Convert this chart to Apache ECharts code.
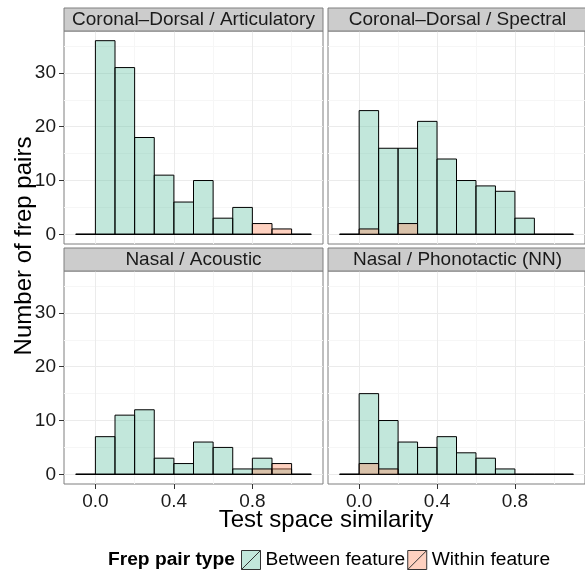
<!DOCTYPE html>
<html>
<head>
<meta charset="utf-8">
<title>Test space similarity</title>
<script src="https://cdn.jsdelivr.net/npm/echarts@6.0.0/dist/echarts.min.js"></script>
<style>
html,body{margin:0;padding:0;background:#fff;}
#chart{width:585px;height:570px;}
</style>
</head>
<body>
<div id="chart"></div>
<script>
// histogram bins (left edge of each 0.1 wide bin)
var binStarts = [-0.1, 0.0, 0.1, 0.2, 0.3, 0.4, 0.5, 0.6, 0.7, 0.8, 0.9, 1.0];
var binWidth = 0.1;

var panelTitles = ['Coronal\u2013Dorsal / Articulatory', 'Coronal\u2013Dorsal / Spectral',
                   'Nasal / Acoustic', 'Nasal / Phonotactic (NN)'];

// counts per bin, one pair of arrays per panel
var artBetween  = [0, 36, 31, 18, 11, 6, 10, 3, 5, 0, 0, 0];
var artWithin   = [0, 0, 0, 0, 0, 0, 0, 0, 0, 2, 1, 0];
var specBetween = [0, 23, 16, 16, 21, 14, 10, 9, 8, 3, 0, 0];
var specWithin  = [0, 1, 0, 2, 0, 0, 0, 0, 0, 0, 0, 0];
var acouBetween = [0, 7, 11, 12, 3, 2, 6, 5, 1, 3, 1, 0];
var acouWithin  = [0, 0, 0, 0, 0, 0, 0, 0, 0, 1, 2, 0];
var phonBetween = [0, 15, 10, 6, 5, 7, 4, 3, 1, 0, 0, 0];
var phonWithin  = [0, 2, 1, 0, 0, 0, 0, 0, 0, 0, 0, 0];

var yTicks = [0, 10, 20, 30];
var yMinor = [5, 15, 25, 35];
var xTicks = [0, 0.4, 0.8];
var xMinor = [0.2, 0.6, 1.0];

var groupNames = ['Between feature', 'Within feature'];

var FONT = 'Liberation Sans, Arial, Helvetica, sans-serif';
var greenFill = 'rgba(102,194,165,0.4)';
var pinkFill = 'rgba(252,141,98,0.4)';

var panelData = [
  [artBetween, artWithin],
  [specBetween, specWithin],
  [acouBetween, acouWithin],
  [phonBetween, phonWithin]
];

var grids = [
  {left: 64, top: 31, width: 259, height: 213},
  {left: 328, top: 31, width: 259, height: 213},
  {left: 64, top: 271, width: 259, height: 213},
  {left: 328, top: 271, width: 259, height: 213}
];

var chart = echarts.init(document.getElementById('chart'), null, {renderer: 'canvas'});

function binPairs(counts){
  var out = [];
  for (var i = 0; i < binStarts.length; i++) {
    out.push([binStarts[i], counts[i]]);
  }
  return out;
}

function renderBin(fill){
  return function(params, api){
    var x0 = api.value(0);
    var n = api.value(1);
    var tl = api.coord([x0, n]);
    var br = api.coord([x0 + binWidth, 0]);
    return {
      type: 'polygon',
      shape: {points: [[tl[0], br[1]], [tl[0], tl[1]], [br[0], tl[1]], [br[0], br[1]]]},
      style: {fill: fill, stroke: '#000', lineWidth: 1}
    };
  };
}

var xAxes = [], yAxes = [], series = [], graphics = [];

for (var g = 0; g < 4; g++) {
  var bottomRow = g >= 2;
  var leftCol = g % 2 === 0;
  grids[g].show = true;
  grids[g].borderColor = '#7f7f7f';
  grids[g].borderWidth = 1;
  grids[g].containLabel = false;

  // major axis
  xAxes.push({
    type: 'value', gridIndex: g, min: -0.16, max: 1.16, position: 'bottom',
    axisLine: {show: false, onZero: false},
    axisTick: {show: bottomRow, length: 5, customValues: xTicks, lineStyle: {color: '#333'}},
    axisLabel: {show: bottomRow, customValues: xTicks, margin: 8, fontSize: 19, color: '#1a1a1a', fontFamily: FONT,
      formatter: function(v){ return v.toFixed(1); }},
    splitLine: {show: true, lineStyle: {color: '#ebebeb', width: 1}}
  });
  // minor grid lines
  xAxes.push({
    type: 'value', gridIndex: g, min: -0.16, max: 1.16, position: 'top',
    axisLine: {show: false, onZero: false}, axisLabel: {show: false},
    axisTick: {show: false, customValues: xMinor},
    splitLine: {show: true, lineStyle: {color: '#f6f6f6', width: 1}}
  });
  yAxes.push({
    type: 'value', gridIndex: g, min: -1.8, max: 37.8, position: 'left',
    axisLine: {show: false, onZero: false},
    axisTick: {show: leftCol, length: 5, customValues: yTicks, lineStyle: {color: '#333'}},
    axisLabel: {show: leftCol, customValues: yTicks, margin: 8, fontSize: 19, color: '#1a1a1a', fontFamily: FONT},
    splitLine: {show: true, lineStyle: {color: '#ebebeb', width: 1}}
  });
  yAxes.push({
    type: 'value', gridIndex: g, min: -1.8, max: 37.8, position: 'right',
    axisLine: {show: false, onZero: false}, axisLabel: {show: false},
    axisTick: {show: false, customValues: yMinor},
    splitLine: {show: true, lineStyle: {color: '#f6f6f6', width: 1}}
  });

  var fills = [greenFill, pinkFill];
  for (var k = 0; k < 2; k++) {
    series.push({
      name: groupNames[k],
      type: 'custom',
      xAxisIndex: g * 2,
      yAxisIndex: g * 2,
      clip: false,
      itemStyle: {color: fills[k], borderColor: '#000'},
      renderItem: renderBin(fills[k]),
      encode: {x: 0, y: 1},
      data: binPairs(panelData[g][k]),
      z: 2 + k
    });
  }

  // facet strip
  var sx = grids[g].left, sy = bottomRow ? 248 : 8;
  graphics.push({
    type: 'rect', silent: true, z: 10,
    shape: {x: sx, y: sy, width: grids[g].width, height: 23},
    style: {fill: '#cccccc', stroke: '#7f7f7f', lineWidth: 1}
  });
  graphics.push({
    type: 'text', silent: true, z: 11,
    x: sx + grids[g].width / 2, y: sy + 11.5,
    style: {text: panelTitles[g], font: '19px ' + FONT, fill: '#1a1a1a', align: 'center', verticalAlign: 'middle'}
  });
}

graphics.push({
  type: 'text', silent: true, x: 24, y: 246, rotation: Math.PI / 2,
  style: {text: 'Number of frep pairs', font: '24px ' + FONT, fill: '#000', align: 'center', verticalAlign: 'middle'}
});
graphics.push({
  type: 'text', silent: true, x: 326, y: 520,
  style: {text: 'Test space similarity', font: '24px ' + FONT, fill: '#000', align: 'center', verticalAlign: 'middle'}
});
graphics.push({
  type: 'text', silent: true, x: 108, y: 560,
  style: {text: 'Frep pair type', font: 'bold 19.2px ' + FONT, fill: '#000', align: 'left', verticalAlign: 'middle'}
});

var keyIcon = 'path://M0,0H20V20H0Z M0,20L20,0';

chart.setOption({
  animation: false,
  backgroundColor: '#fff',
  grid: grids,
  xAxis: xAxes,
  yAxis: yAxes,
  legend: {
    left: 241, top: 550, padding: 0, itemWidth: 19, itemHeight: 19, itemGap: 2,
    selectedMode: false,
    textStyle: {fontSize: 19.2, color: '#000', fontFamily: FONT},
    data: [
      {name: groupNames[0], icon: keyIcon, itemStyle: {color: greenFill, borderColor: '#333', borderWidth: 1}},
      {name: groupNames[1], icon: keyIcon, itemStyle: {color: pinkFill, borderColor: '#333', borderWidth: 1}}
    ]
  },
  graphic: graphics,
  series: series
});
</script>
</body>
</html>
